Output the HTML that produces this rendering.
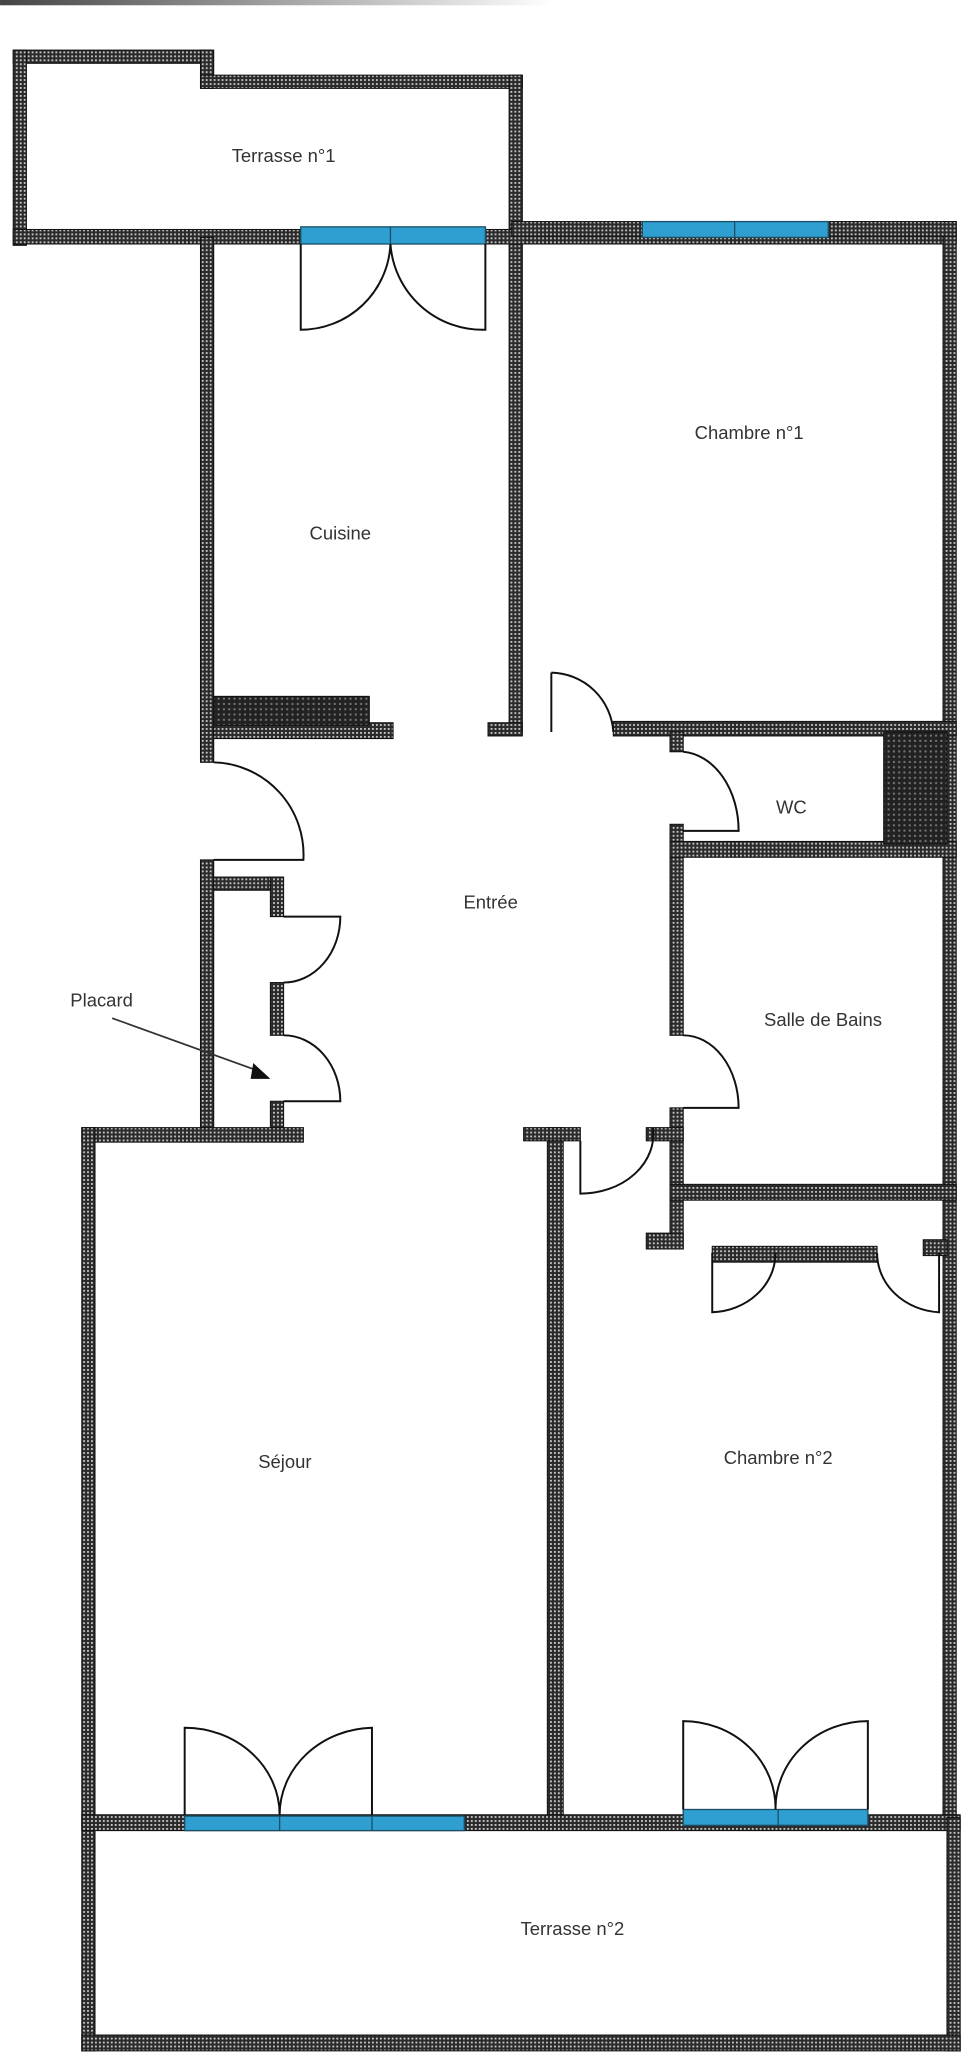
<!DOCTYPE html>
<html><head><meta charset="utf-8"><style>
html,body{margin:0;padding:0;background:#fff;}
svg{display:block}
text{font-family:"Liberation Sans",sans-serif;font-size:14px;fill:#333;}
</style></head><body>
<svg width="980" height="2068" viewBox="0 0 743 1568" xmlns="http://www.w3.org/2000/svg">
<defs>
<pattern id="w" width="3" height="3" patternUnits="userSpaceOnUse">
<rect width="3" height="3" fill="#2a2a2a"/>
<rect x="0" y="0" width="1.4" height="1.4" fill="#c8c8c8"/>
</pattern>
<pattern id="d" width="4" height="4" patternUnits="userSpaceOnUse">
<rect width="4" height="4" fill="#222"/>
<rect x="1" y="1" width="1.5" height="1.5" fill="#777"/>
</pattern>
<linearGradient id="g" x1="0" x2="1"><stop offset="0" stop-color="#444"/><stop offset="1" stop-color="#fff"/></linearGradient>
</defs>
<rect x="0" y="0" width="420" height="4" fill="url(#g)"/>
<g fill="url(#w)" stroke="#111" stroke-width="0.8">
<rect x="10" y="38" width="150" height="10"/>
<rect x="152" y="38" width="10" height="29"/>
<rect x="152" y="57" width="244" height="10"/>
<rect x="10" y="38" width="10" height="148"/>
<rect x="386" y="57" width="10" height="498"/>
<rect x="10" y="174" width="715" height="11"/>
<rect x="715" y="168" width="10" height="1215"/>
<rect x="388" y="168" width="337" height="11"/>
<rect x="152" y="180" width="10" height="398"/>
<rect x="162" y="548" width="136" height="12"/>
<rect x="370" y="548" width="26" height="10"/>
<rect x="152" y="652" width="10" height="210"/>
<rect x="162" y="665" width="50" height="10"/>
<rect x="205" y="665" width="10" height="30"/>
<rect x="205" y="745" width="10" height="40"/>
<rect x="205" y="835" width="10" height="25"/>
<rect x="62" y="855" width="168" height="11"/>
<rect x="62" y="855" width="10" height="700"/>
<rect x="415" y="855" width="12" height="527"/>
<rect x="397" y="855" width="43" height="10"/>
<rect x="465" y="547" width="260" height="11"/>
<rect x="508" y="555" width="10" height="15"/>
<rect x="508" y="625" width="10" height="160"/>
<rect x="508" y="638" width="217" height="12"/>
<rect x="508" y="840" width="10" height="107"/>
<rect x="490" y="855" width="28" height="10"/>
<rect x="508" y="898" width="217" height="12"/>
<rect x="490" y="935" width="28" height="12"/>
<rect x="540" y="945" width="125" height="12"/>
<rect x="700" y="940" width="18" height="12"/>
<rect x="62" y="1376" width="666" height="12"/>
<rect x="718" y="1378" width="10" height="177"/>
<rect x="62" y="1543" width="666" height="12"/>
</g>
<g fill="url(#d)" stroke="#111" stroke-width="0.8">
<rect x="162" y="528" width="118" height="22"/>
<rect x="670" y="555" width="48" height="85"/>
</g>
<g fill="#2e9fd0" stroke="#1b4f66" stroke-width="1">
<rect x="228" y="172" width="140" height="13"/>
<rect x="487" y="168" width="141" height="12"/>
<rect x="140" y="1377" width="212" height="11"/>
<rect x="518" y="1372" width="140" height="12"/>
</g>
<g stroke="#1b4f66" stroke-width="1">
<line x1="296" y1="172" x2="296" y2="185"/>
<line x1="557" y1="168" x2="557" y2="180"/>
<line x1="212" y1="1377" x2="212" y2="1388"/>
<line x1="282" y1="1377" x2="282" y2="1388"/>
<line x1="590" y1="1372" x2="590" y2="1384"/>
</g>
<g fill="none" stroke="#111" stroke-width="1.5">
<path d="M228 185 V250 A68 68 0 0 0 296 185 A70 70 0 0 0 368 250 V185"/>
<path d="M162 578 A70 70 0 0 1 230 652 H162"/>
<path d="M418 510 V555 M418 510 A48 48 0 0 1 465 555"/>
<path d="M518 570 A45 60 0 0 1 560 630 H518"/>
<path d="M215 695 H258 A43 50 0 0 1 215 745"/>
<path d="M215 785 A43 50 0 0 1 258 835 H215"/>
<path d="M518 785 A42 55 0 0 1 560 840 H518"/>
<path d="M440 865 V905 A55 45 0 0 0 495 855"/>
<path d="M540 950 V995 A50 45 0 0 0 588 950"/>
<path d="M665 950 A50 45 0 0 0 712 995 V950"/>
<path d="M140 1376 V1310 A72 66 0 0 1 212 1376 A72 66 0 0 1 282 1310 V1376"/>
<path d="M518 1372 V1305 A70 66 0 0 1 588 1372 A70 66 0 0 1 658 1305 V1372"/>
</g>
<line x1="85" y1="772" x2="196" y2="812" stroke="#333" stroke-width="1.3"/>
<polygon points="205,818 192,806 190,818" fill="#111"/>
<text x="215" y="123" text-anchor="middle">Terrasse n°1</text>
<text x="568" y="333" text-anchor="middle">Chambre n°1</text>
<text x="258" y="409" text-anchor="middle">Cuisine</text>
<text x="372" y="689" text-anchor="middle">Entrée</text>
<text x="600" y="617" text-anchor="middle">WC</text>
<text x="624" y="778" text-anchor="middle">Salle de Bains</text>
<text x="77" y="763" text-anchor="middle">Placard</text>
<text x="216" y="1113" text-anchor="middle">Séjour</text>
<text x="590" y="1110" text-anchor="middle">Chambre n°2</text>
<text x="434" y="1467" text-anchor="middle">Terrasse n°2</text>
</svg>
</body></html>
